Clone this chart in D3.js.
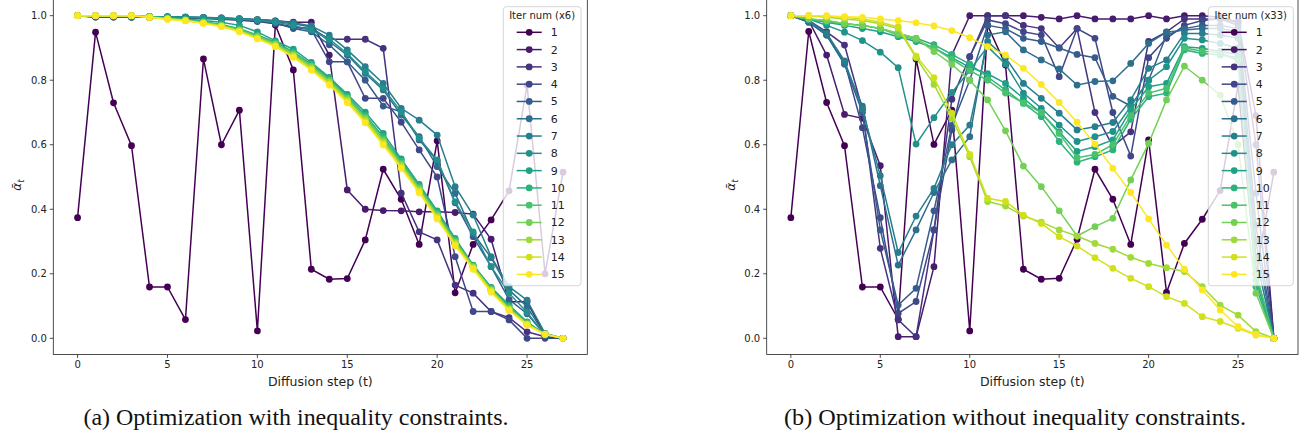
<!DOCTYPE html>
<html><head><meta charset="utf-8">
<script src="https://cdn.jsdelivr.net/npm/d3@7"></script>
<style>body{margin:0;background:#fff}</style>
</head><body><svg id="c" width="1308" height="439"></svg>
<script>
const steps = [0,1,2,3,4,5,6,7,8,9,10,11,12,13,14,15,16,17,18,19,20,21,22,23,24,25,26,27];
const xTicks = [0,5,10,15,20,25];
const yTicks = [0,0.2,0.4,0.6,0.8,1.0];
const iterLabels = ["1","2","3","4","5","6","7","8","9","10","11","12","13","14","15"];

// (a) with inequality constraints
const A1 = [0.374,0.949,0.730,0.597,0.159,0.159,0.058,0.866,0.600,0.707,0.023,0.971,0.832,0.214,0.183,0.185,0.305,0.524,0.431,0.291,0.612,0.141,0.291,0.367,0.457,0.785,0.200,0.515];
const A2 = [1,0.997,0.997,0.997,0.996,0.996,0.995,0.994,0.993,0.99,0.988,0.984,0.98,0.98,0.878,0.46,0.40,0.396,0.395,0.392,0.392,0.39,0.385,0.307,0.113,0.113,0.01,0];
const A3 = [1,0.996,0.996,0.996,0.995,0.995,0.994,0.993,0.99,0.988,0.985,0.975,0.965,0.96,0.927,0.927,0.927,0.899,0.45,0.33,0.305,0.165,0.14,0.083,0.064,0.02,0.005,0];
const A4 = [1,0.996,0.996,0.995,0.995,0.994,0.993,0.991,0.989,0.986,0.982,0.975,0.964,0.957,0.857,0.857,0.744,0.744,0.67,0.584,0.50,0.253,0.083,0.083,0.057,0,0,0];
const A5 = [1,0.997,0.997,0.996,0.996,0.995,0.994,0.993,0.991,0.988,0.984,0.978,0.96,0.95,0.91,0.857,0.80,0.72,0.702,0.615,0.55,0.42,0.315,0.222,0.12,0.076,0.01,0];
const A6 = [1,0.998,0.998,0.997,0.997,0.996,0.995,0.994,0.992,0.99,0.986,0.982,0.975,0.965,0.92,0.878,0.821,0.77,0.692,0.625,0.532,0.449,0.325,0.25,0.15,0.098,0.01,0];
const A7 = [1,0.998,0.998,0.998,0.997,0.997,0.996,0.995,0.993,0.991,0.988,0.984,0.978,0.968,0.94,0.894,0.842,0.79,0.713,0.676,0.63,0.47,0.382,0.253,0.16,0.118,0.015,0];
const A8 = [1,0.998,0.998,0.997,0.997,0.996,0.995,0.994,0.992,0.99,0.986,0.98,0.97,0.955,0.927,0.883,0.826,0.775,0.702,0.62,0.553,0.423,0.33,0.222,0.14,0.08,0.01,0];
const A9 = [1,1,0.999,0.998,0.997,0.995,0.99,0.985,0.98,0.97,0.95,0.922,0.896,0.855,0.809,0.756,0.701,0.635,0.556,0.477,0.395,0.31,0.227,0.158,0.103,0.051,0.012,0];
const A10 = [1,1,1,1,0.997,0.993,0.988,0.982,0.973,0.96,0.94,0.918,0.888,0.85,0.805,0.75,0.692,0.625,0.55,0.472,0.39,0.306,0.226,0.155,0.099,0.049,0.012,0];
const A11 = [1,1,1,1,0.996,0.992,0.987,0.98,0.971,0.957,0.937,0.914,0.883,0.845,0.8,0.746,0.686,0.618,0.544,0.467,0.386,0.302,0.224,0.153,0.095,0.047,0.012,0];
const A12 = [1,1,1,1,0.996,0.991,0.986,0.979,0.97,0.955,0.935,0.912,0.88,0.842,0.797,0.743,0.682,0.613,0.54,0.463,0.382,0.298,0.222,0.151,0.092,0.045,0.013,0];
const A13 = [1,1,1,1,0.996,0.99,0.985,0.978,0.968,0.953,0.932,0.909,0.877,0.838,0.793,0.738,0.677,0.608,0.535,0.459,0.378,0.295,0.22,0.149,0.09,0.044,0.013,0];
const A14 = [1,1,1,1,0.995,0.99,0.985,0.977,0.967,0.952,0.93,0.906,0.874,0.834,0.789,0.734,0.672,0.603,0.531,0.455,0.374,0.291,0.217,0.146,0.088,0.043,0.013,0];
const A15 = [1,1,1,1,0.995,0.989,0.984,0.976,0.966,0.95,0.928,0.904,0.871,0.831,0.785,0.73,0.668,0.599,0.527,0.451,0.37,0.287,0.214,0.143,0.086,0.041,0.012,0];

// (b) without inequality constraints
const B1 = [0.374,0.951,0.731,0.597,0.159,0.159,0.059,0.866,0.601,0.707,0.023,0.97,0.847,0.214,0.183,0.186,0.307,0.524,0.431,0.291,0.615,0.142,0.294,0.369,0.458,0.785,0.2,0.515];
const B2 = [1,0.985,0.878,0.694,0.682,0.535,0.005,0.005,0.222,0.878,1.0,1.0,1.0,1.0,0.995,0.99,1.0,0.99,0.99,0.99,1.0,0.99,1.0,1.0,0.995,0.98,0.69,0];
const B3 = [1,0.985,0.95,0.909,0.71,0.279,0.057,0.005,0.336,0.741,0.873,1.0,1.0,0.97,0.96,0.90,0.96,0.70,0.595,0.64,0.92,0.95,0.99,0.99,0.99,0.98,0.6,0];
const B4 = [1,0.985,0.945,0.858,0.653,0.374,0.077,0.114,0.336,0.646,0.873,0.987,0.975,0.95,0.94,0.811,0.96,0.93,0.70,0.565,0.87,0.93,0.97,0.985,0.99,0.97,0.45,0];
const B5 = [1,0.98,0.94,0.85,0.70,0.336,0.103,0.155,0.395,0.66,0.80,0.97,0.96,0.93,0.92,0.90,0.88,0.87,0.75,0.72,0.80,0.94,0.96,0.97,0.97,0.96,0.35,0];
const B6 = [1,0.98,0.94,0.85,0.72,0.473,0.227,0.336,0.452,0.553,0.625,0.94,0.95,0.894,0.863,0.835,0.785,0.796,0.798,0.852,0.914,0.949,0.956,0.96,0.96,0.95,0.3,0];
const B7 = [1,0.985,0.945,0.86,0.71,0.504,0.266,0.379,0.465,0.60,0.661,0.92,0.87,0.79,0.744,0.698,0.646,0.656,0.669,0.739,0.837,0.863,0.945,0.945,0.94,0.93,0.25,0];
const B8 = [1,0.99,0.97,0.949,0.923,0.887,0.839,0.602,0.684,0.762,0.83,0.904,0.85,0.76,0.713,0.661,0.61,0.625,0.641,0.718,0.80,0.842,0.93,0.925,0.914,0.9,0.2,0];
const B9 = [1,0.99,0.98,0.97,0.96,0.95,0.935,0.92,0.9,0.87,0.84,0.82,0.79,0.744,0.698,0.64,0.579,0.594,0.615,0.708,0.78,0.79,0.904,0.899,0.889,0.88,0.18,0];
const B10 = [1,0.99,0.98,0.975,0.97,0.96,0.945,0.93,0.91,0.88,0.85,0.81,0.77,0.728,0.687,0.61,0.546,0.563,0.584,0.679,0.749,0.76,0.894,0.883,0.878,0.87,0.16,0];
const B11 = [1,0.99,0.985,0.975,0.97,0.96,0.94,0.925,0.9,0.865,0.83,0.80,0.76,0.73,0.70,0.635,0.56,0.57,0.60,0.69,0.76,0.775,0.90,0.89,0.885,0.86,0.2,0];
const B12 = [1,0.99,0.985,0.975,0.97,0.96,0.945,0.93,0.889,0.849,0.80,0.739,0.643,0.534,0.47,0.395,0.317,0.346,0.372,0.491,0.604,0.739,0.844,0.80,0.754,0.60,0.14,0];
const B13 = [1,1,0.995,0.99,0.985,0.975,0.96,0.87,0.787,0.682,0.563,0.424,0.41,0.379,0.36,0.336,0.317,0.294,0.276,0.251,0.232,0.219,0.207,0.16,0.103,0.072,0.021,0];
const B14 = [1,1,0.998,0.995,0.99,0.98,0.965,0.875,0.808,0.698,0.57,0.434,0.424,0.382,0.356,0.315,0.286,0.25,0.217,0.186,0.16,0.129,0.108,0.067,0.052,0.031,0.01,0];
const B15 = [1,1,1,0.997,0.995,0.99,0.985,0.978,0.968,0.954,0.932,0.904,0.878,0.837,0.787,0.731,0.67,0.602,0.527,0.452,0.37,0.289,0.214,0.15,0.088,0.036,0.012,0];

const seriesA = [A1,A2,A3,A4,A5,A6,A7,A8,A9,A10,A11,A12,A13,A14,A15];
const seriesB = [B1,B2,B3,B4,B5,B6,B7,B8,B9,B10,B11,B12,B13,B14,B15];

const svg = d3.select("#c");
svg.append("rect").attr("width",1308).attr("height",439).attr("fill","#fff");
const color = i => d3.interpolateViridis(i/14);

const panels = [
  {series:seriesA, left:53.3, right:587.3, title:"Iter num (x6)", caption:"(a) Optimization with inequality constraints.", legX:503.3, legW:77.7, capX:296, capW:425, ylabX:21},
  {series:seriesB, left:766.7, right:1298, title:"Iter num (x33)", caption:"(b) Optimization without inequality constraints.", legX:1208.3, legW:85, capX:1015, capW:462, ylabX:735}
];

panels.forEach(p => {
  const x = d3.scaleLinear().domain([-1.35, 28.35]).range([p.left, p.right]);
  const y = d3.scaleLinear().domain([0, 1]).range([338.3, 15.7]);
  const g = svg.append("g");
  const top = y(1.05), bot = y(-0.05);

  const cid = "clip" + Math.round(p.left);
  svg.append("clipPath").attr("id", cid).append("rect")
    .attr("x", p.left).attr("y", top).attr("width", p.right - p.left).attr("height", bot - top);

  const plot = g.append("g").attr("clip-path", `url(#${cid})`);
  const line = d3.line().x((d,i)=>x(steps[i])).y(d=>y(d));
  p.series.forEach((s, i) => {
    const sg = plot.append("g");
    sg.append("path").attr("d", line(s)).attr("fill","none")
      .attr("stroke", color(i)).attr("stroke-width", 1.5);
    sg.selectAll("circle").data(s).join("circle")
      .attr("cx",(d,j)=>x(steps[j])).attr("cy", d=>y(d)).attr("r",3.4)
      .attr("fill", color(i));
  });

  const axg = g.append("g").attr("font-family","DejaVu Sans").attr("font-size",10).attr("fill","#222");
  xTicks.forEach(t => {
    axg.append("line").attr("x1",x(t)).attr("x2",x(t)).attr("y1",bot).attr("y2",bot+3.5).attr("stroke","#222").attr("stroke-width",0.8);
    axg.append("text").attr("x",x(t)).attr("y",bot+14).attr("text-anchor","middle").text(t);
  });
  yTicks.forEach(t => {
    axg.append("line").attr("x1",p.left-3.5).attr("x2",p.left).attr("y1",y(t)).attr("y2",y(t)).attr("stroke","#222").attr("stroke-width",0.8);
    axg.append("text").attr("x",p.left-6.5).attr("y",y(t)+3.6).attr("text-anchor","end").text(d3.format(".1f")(t));
  });
  g.append("rect").attr("x",p.left).attr("y",top).attr("width",p.right-p.left).attr("height",bot-top)
    .attr("fill","none").attr("stroke","#222").attr("stroke-width",0.8);

  g.append("text").attr("x",(p.left+p.right)/2).attr("y",385.5).attr("text-anchor","middle")
    .attr("font-family","DejaVu Sans").attr("font-size",12.5).attr("fill","#222").text("Diffusion step (t)");
  const yl = g.append("text").attr("transform",`translate(${p.ylabX},185) rotate(-90)`)
    .attr("text-anchor","middle").attr("font-family","DejaVu Sans").attr("font-style","oblique")
    .attr("font-size",12).attr("fill","#222");
  yl.append("tspan").text("ᾱ");
  yl.append("tspan").attr("font-size",8.5).attr("dy",3).text("t");

  const lg = g.append("g");
  lg.append("rect").attr("x",p.legX).attr("y",6.7).attr("width",p.legW).attr("height",279)
    .attr("rx",3).attr("fill","#fff").attr("fill-opacity",0.8).attr("stroke","#ccc").attr("stroke-width",0.8);
  lg.append("text").attr("x",p.legX+p.legW/2).attr("y",19.3).attr("text-anchor","middle")
    .attr("font-family","DejaVu Sans").attr("font-size",10).attr("fill","#222").text(p.title);
  iterLabels.forEach((lab, i) => {
    const yy = 32.3 + i*17.29;
    const x0 = p.legX + 13.4, x1 = p.legX + 38.4;
    lg.append("line").attr("x1",x0).attr("x2",x1).attr("y1",yy).attr("y2",yy).attr("stroke",color(i)).attr("stroke-width",1.5);
    lg.append("circle").attr("cx",(x0+x1)/2).attr("cy",yy).attr("r",3.4).attr("fill",color(i));
    lg.append("text").attr("x",p.legX+47.4).attr("y",yy+4).attr("font-family","DejaVu Sans").attr("font-size",11)
      .attr("fill","#222").text(lab);
  });

  svg.append("text").attr("x",p.capX).attr("y",425).attr("text-anchor","middle")
    .attr("font-family","Liberation Serif").attr("font-size",24).attr("fill","#111")
    .attr("textLength",p.capW).attr("lengthAdjust","spacingAndGlyphs").text(p.caption);
});
</script></body></html>
